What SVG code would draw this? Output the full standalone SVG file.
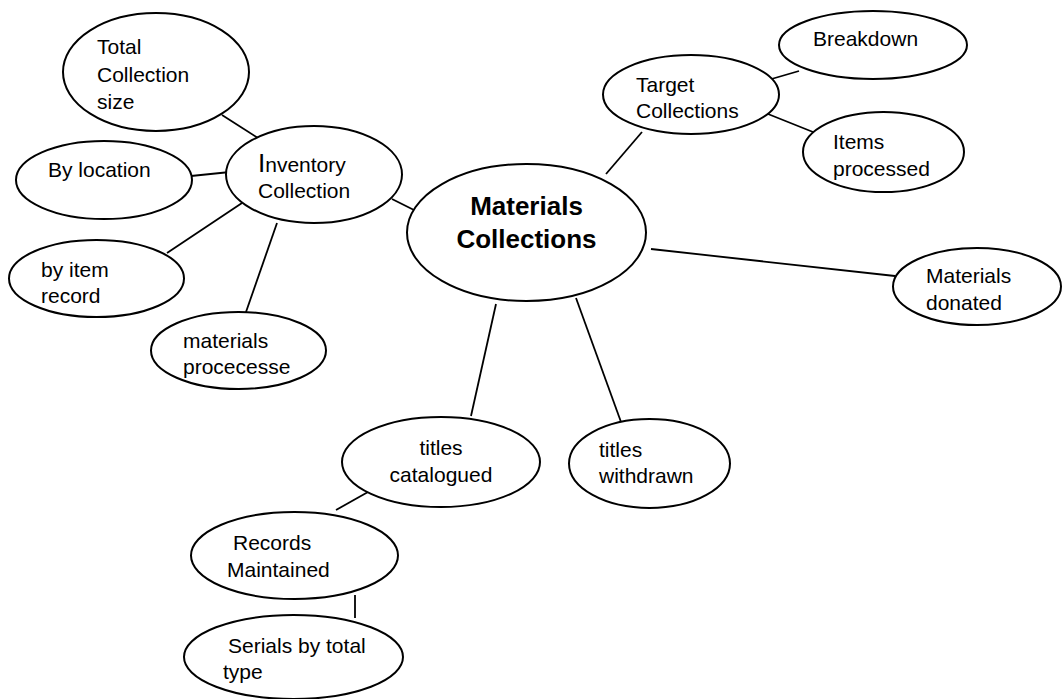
<svg xmlns="http://www.w3.org/2000/svg" width="1062" height="699" viewBox="0 0 1062 699">
  <style>
    .node ellipse { fill: #ffffff; stroke: #000000; stroke-width: 2; }
    .node text { font-family: "Liberation Sans", Arial, sans-serif; font-size: 21px; fill: #000000; }
    .node text.hub { font-weight: bold; font-size: 26px; text-anchor: middle; }
    #connectors line { stroke: #000000; stroke-width: 1.8; }
  </style>
  <rect width="1062" height="699" fill="#ffffff"/>

  <!-- connecting lines -->
  <g id="connectors">
    <line x1="222" y1="115" x2="258" y2="138"/>
    <line x1="191" y1="176" x2="230" y2="172"/>
    <line x1="167" y1="253" x2="242" y2="203"/>
    <line x1="246" y1="312" x2="277" y2="223"/>
    <line x1="392" y1="199" x2="416" y2="211"/>
    <line x1="606" y1="174" x2="642" y2="132"/>
    <line x1="768" y1="80" x2="799" y2="71"/>
    <line x1="768" y1="114" x2="813" y2="132"/>
    <line x1="651" y1="249" x2="895" y2="276"/>
    <line x1="496" y1="304" x2="471" y2="416"/>
    <line x1="576" y1="298" x2="621" y2="422"/>
    <line x1="368" y1="492" x2="336" y2="510"/>
    <line x1="355" y1="595" x2="355" y2="618"/>
  </g>

  <!-- central topic -->
  <g id="materials-collections" class="node">
    <ellipse cx="526.5" cy="232.5" rx="119.5" ry="68.5"/>
    <text class="hub" x="526.5" y="215">Materials</text>
    <text class="hub" x="526.5" y="248">Collections</text>
  </g>

  <!-- inventory branch -->
  <g id="inventory-collection" class="node">
    <ellipse cx="314" cy="174.5" rx="88" ry="48.5"/>
    <text x="258" y="172"><tspan font-size="26">I</tspan>nventory</text>
    <text x="258" y="198">Collection</text>
  </g>
  <g id="total-collection-size" class="node">
    <ellipse cx="156" cy="72" rx="93" ry="59"/>
    <text x="97" y="54">Total</text>
    <text x="97" y="82">Collection</text>
    <text x="97" y="109">size</text>
  </g>
  <g id="by-location" class="node">
    <ellipse cx="104" cy="180" rx="88" ry="39"/>
    <text x="48" y="177">By location</text>
  </g>
  <g id="by-item-record" class="node">
    <ellipse cx="96.5" cy="278.5" rx="87.5" ry="38.5"/>
    <text x="41" y="277">by item</text>
    <text x="41" y="303">record</text>
  </g>
  <g id="materials-procecesse" class="node">
    <ellipse cx="238.5" cy="350.5" rx="87.5" ry="38.5"/>
    <text x="183" y="348">materials</text>
    <text x="183" y="374">procecesse</text>
  </g>

  <!-- target branch -->
  <g id="target-collections" class="node">
    <ellipse cx="691" cy="94.5" rx="88" ry="39.5"/>
    <text x="636" y="92">Target</text>
    <text x="636" y="118">Collections</text>
  </g>
  <g id="breakdown" class="node">
    <ellipse cx="873" cy="45" rx="94" ry="34"/>
    <text x="813" y="46">Breakdown</text>
  </g>
  <g id="items-processed" class="node">
    <ellipse cx="883.5" cy="152" rx="80.5" ry="40"/>
    <text x="833" y="149">Items</text>
    <text x="833" y="176">processed</text>
  </g>

  <g id="materials-donated" class="node">
    <ellipse cx="977" cy="286.5" rx="84" ry="38.5"/>
    <text x="926" y="283">Materials</text>
    <text x="926" y="310">donated</text>
  </g>

  <!-- titles branch -->
  <g id="titles-catalogued" class="node">
    <ellipse cx="441" cy="462" rx="99" ry="45"/>
    <text x="441" y="455" text-anchor="middle">titles</text>
    <text x="441" y="482" text-anchor="middle">catalogued</text>
  </g>
  <g id="titles-withdrawn" class="node">
    <ellipse cx="649.5" cy="463.5" rx="80.5" ry="44.5"/>
    <text x="599" y="457">titles</text>
    <text x="599" y="483">withdrawn</text>
  </g>
  <g id="records-maintained" class="node">
    <ellipse cx="294.5" cy="555.5" rx="103.5" ry="43.5"/>
    <text x="233" y="550">Records</text>
    <text x="227" y="577">Maintained</text>
  </g>
  <g id="serials-by-total-type" class="node">
    <ellipse cx="293.5" cy="657" rx="109.5" ry="42"/>
    <text x="228" y="653">Serials by total</text>
    <text x="223" y="679">type</text>
  </g>
</svg>
